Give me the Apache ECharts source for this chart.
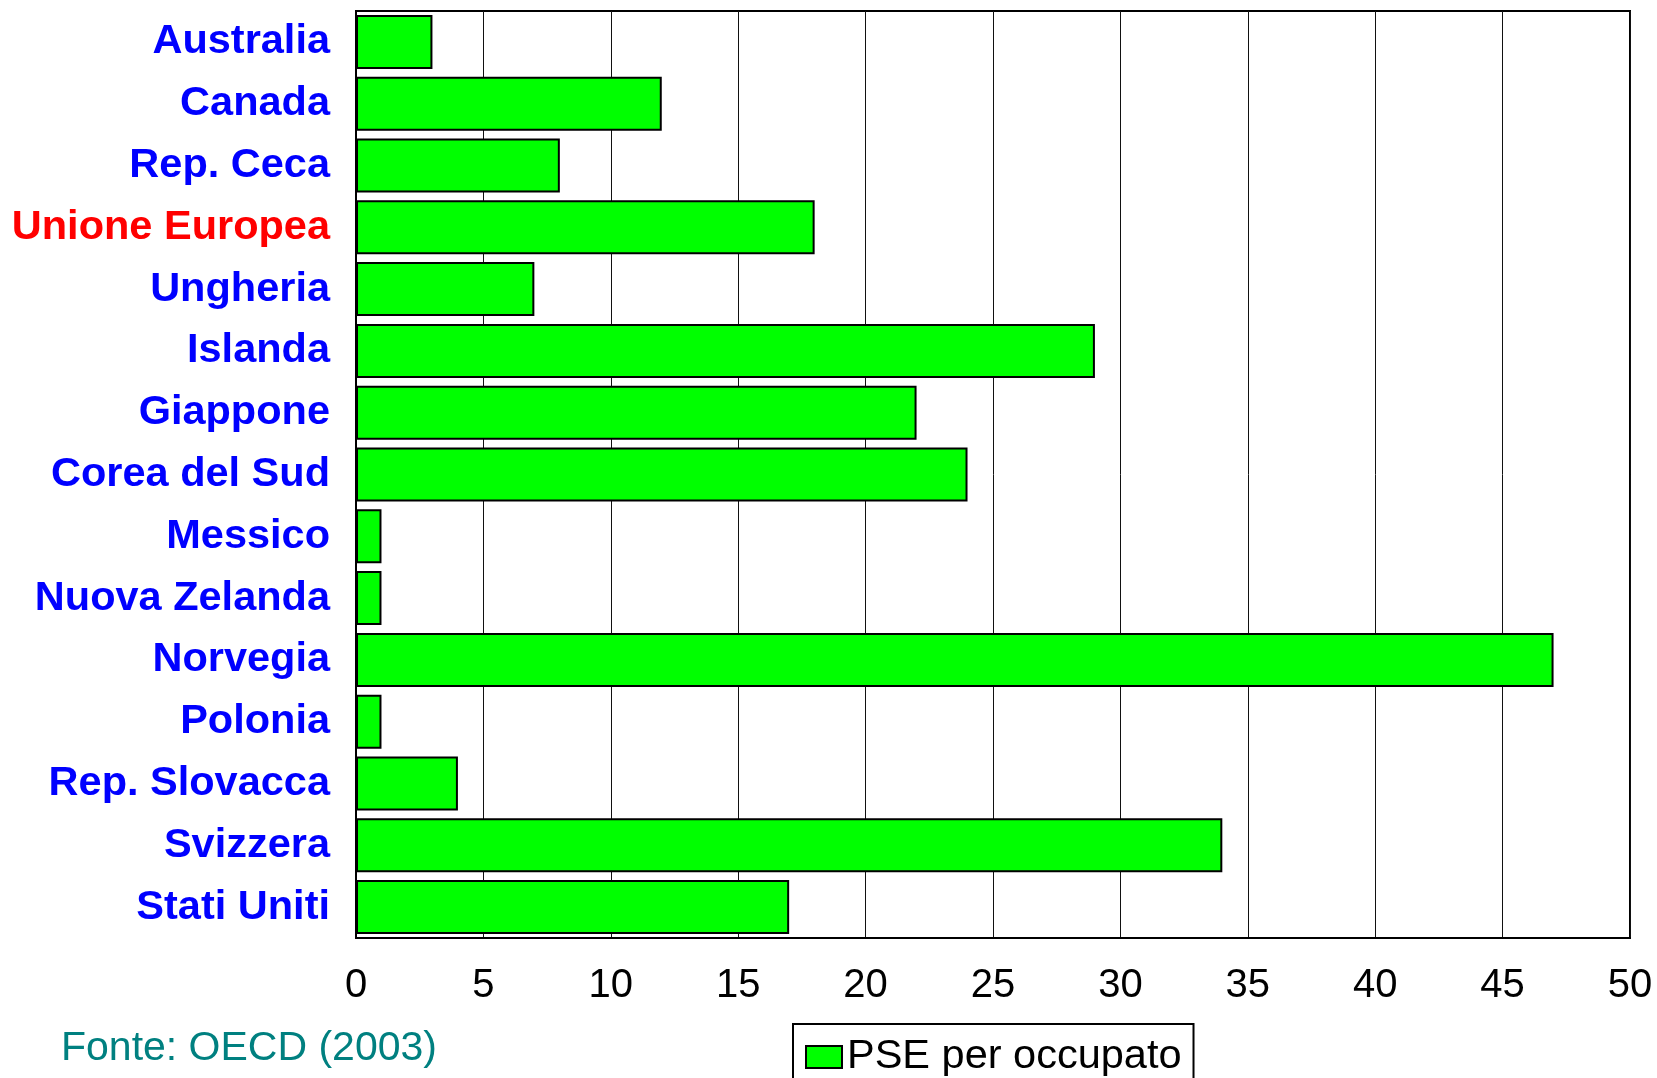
<!DOCTYPE html>
<html>
<head>
<meta charset="utf-8">
<script src="https://cdn.jsdelivr.net/npm/echarts@6/dist/echarts.min.js"></script>
<style>
html,body{margin:0;padding:0;background:#fff;}
#chart{width:1657px;height:1078px;}
</style>
</head>
<body>
<div id="chart"></div>
<script>
const categories = ["Australia","Canada","Rep. Ceca","Unione Europea","Ungheria","Islanda","Giappone","Corea del Sud","Messico","Nuova Zelanda","Norvegia","Polonia","Rep. Slovacca","Svizzera","Stati Uniti"];
const pseValues = [3,12,8,18,7,29,22,24,1,1,47,1,4,34,17];
const seriesName = "PSE per occupato";
const highlighted = "Unione Europea";
const sourceText = "Fonte: OECD (2003)";

const FONT = "Arial, 'Liberation Sans', Helvetica, sans-serif";
const chart = echarts.init(document.getElementById('chart'), null, {renderer:'canvas'});
chart.setOption({
  animation:false,
  backgroundColor:'#ffffff',
  grid:{left:356, right:27, top:11, bottom:140, show:true, borderColor:'#000', borderWidth:2, backgroundColor:'transparent'},
  xAxis:{
    type:'value', min:0, max:50, interval:5,
    axisLine:{show:true, lineStyle:{color:'#000', width:2}},
    axisTick:{show:false},
    splitLine:{show:true, lineStyle:{color:'#111', width:1}},
    axisLabel:{color:'#000', fontSize:40, fontFamily:FONT, margin:28}
  },
  yAxis:{
    type:'category', data:categories, inverse:true,
    axisLine:{show:true, lineStyle:{color:'#000', width:2}},
    axisTick:{show:false},
    splitLine:{show:false},
    axisLabel:{
      fontSize:41.5, fontWeight:'bold', fontFamily:FONT, margin:26,
      color:function(v){ return v===highlighted ? '#ff0000' : '#0000ff'; }
    }
  },
  legend:{
    show:true, left:793, top:1024, orient:'horizontal',
    data:[seriesName],
    itemWidth:36, itemHeight:22, itemGap:10,
    padding:[12,12,40,12],
    borderColor:'#000', borderWidth:2, backgroundColor:'#fff',
    textStyle:{color:'#000', fontSize:41.5, fontFamily:FONT, padding:[0,0,0,0]},
    icon:'rect',
    itemStyle:{borderColor:'#000', borderWidth:2}
  },
  graphic:[{
    type:'text', left:61, top:1028,
    style:{text:sourceText, fill:'#008080', fontSize:41, fontFamily:FONT}
  }],
  series:[{
    name:seriesName, type:'bar', data:pseValues, barWidth:54,
    itemStyle:{color:'#00ff00', borderColor:'#000', borderWidth:2}
  }]
});
</script>
</body>
</html>
